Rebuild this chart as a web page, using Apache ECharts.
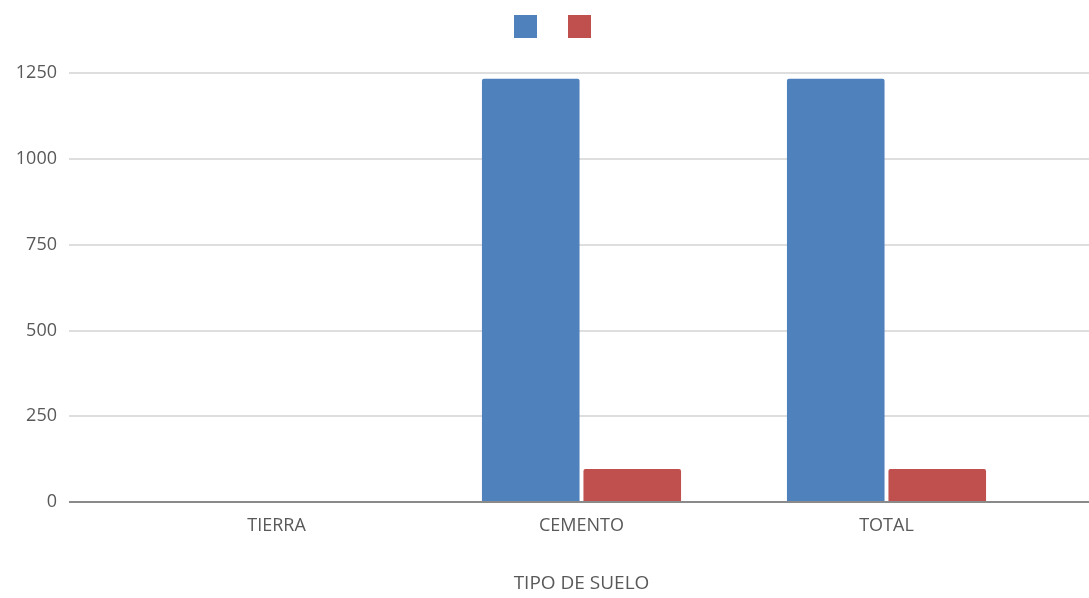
<!DOCTYPE html>
<html>
<head>
<meta charset="utf-8">
<script src="https://cdn.jsdelivr.net/npm/echarts@6/dist/echarts.min.js"></script>
<style>html,body{margin:0;padding:0;background:#fff}#c{width:1089px;height:598px}</style>
</head>
<body>
<div id="c"></div>
<script>
const categories = ['TIERRA', 'CEMENTO', 'TOTAL'];
const seriesNames = ['Serie 1', 'Serie 2'];
const blueValues = [0, 1233, 1233];
const redValues = [0, 96, 96];
const yTicks = [0, 250, 500, 750, 1000, 1250];

const chart = echarts.init(document.getElementById('c'));
const font = '"Open Sans", sans-serif';
chart.setOption({
  animation: false,
  textStyle: { fontFamily: font },
  legend: {
    data: seriesNames,
    left: 509, top: 10,
    icon: 'rect', itemWidth: 23, itemHeight: 23, itemGap: 31,
    formatter: function () { return ''; },
    textStyle: { padding: 0, fontSize: 1 }
  },
  grid: [
    { left: 69, right: 0, top: 73, bottom: 96 },
    { left: 124, right: 50, top: 73, bottom: 96 }
  ],
  xAxis: [
    { gridIndex: 0, type: 'value', min: 0, max: 1, show: true,
      axisLine: { show: false }, axisTick: { show: false }, axisLabel: { show: false }, splitLine: { show: false } },
    { gridIndex: 1, type: 'category', data: categories,
      axisLine: { show: false }, axisTick: { show: false },
      axisLabel: { color: '#595959', fontSize: 18, margin: 15, fontFamily: font },
      name: 'TIPO DE SUELO', nameLocation: 'middle', nameGap: 72,
      nameTextStyle: { color: '#595959', fontSize: 19, fontFamily: font } }
  ],
  yAxis: [
    { gridIndex: 0, type: 'value', min: yTicks[0], max: yTicks[yTicks.length - 1], interval: 250,
      axisLine: { show: false }, axisTick: { show: false },
      axisLabel: { color: '#595959', fontSize: 18, margin: 12, fontFamily: font,
        formatter: function (v) { return String(v); } },
      splitLine: { lineStyle: { color: '#dedede', width: 2 } } },
    { gridIndex: 1, type: 'value', min: yTicks[0], max: yTicks[yTicks.length - 1], interval: 250,
      show: false }
  ],
  series: [
    { name: seriesNames[0], type: 'bar', xAxisIndex: 1, yAxisIndex: 1, data: blueValues,
      barWidth: '32%', barGap: '4%',
      itemStyle: { color: '#4F81BD', borderRadius: [2, 2, 0, 0] } },
    { name: seriesNames[1], type: 'bar', xAxisIndex: 1, yAxisIndex: 1, data: redValues,
      barWidth: '32%', barGap: '4%',
      itemStyle: { color: '#C0504D', borderRadius: [2, 2, 0, 0] } },
    { type: 'line', xAxisIndex: 0, yAxisIndex: 0, data: [], silent: true,
      markLine: { silent: true, symbol: 'none', label: { show: false },
        lineStyle: { color: '#8a8a8a', width: 2, type: 'solid' },
        data: [{ yAxis: 0 }] } }
  ]
});
</script>
</body>
</html>
